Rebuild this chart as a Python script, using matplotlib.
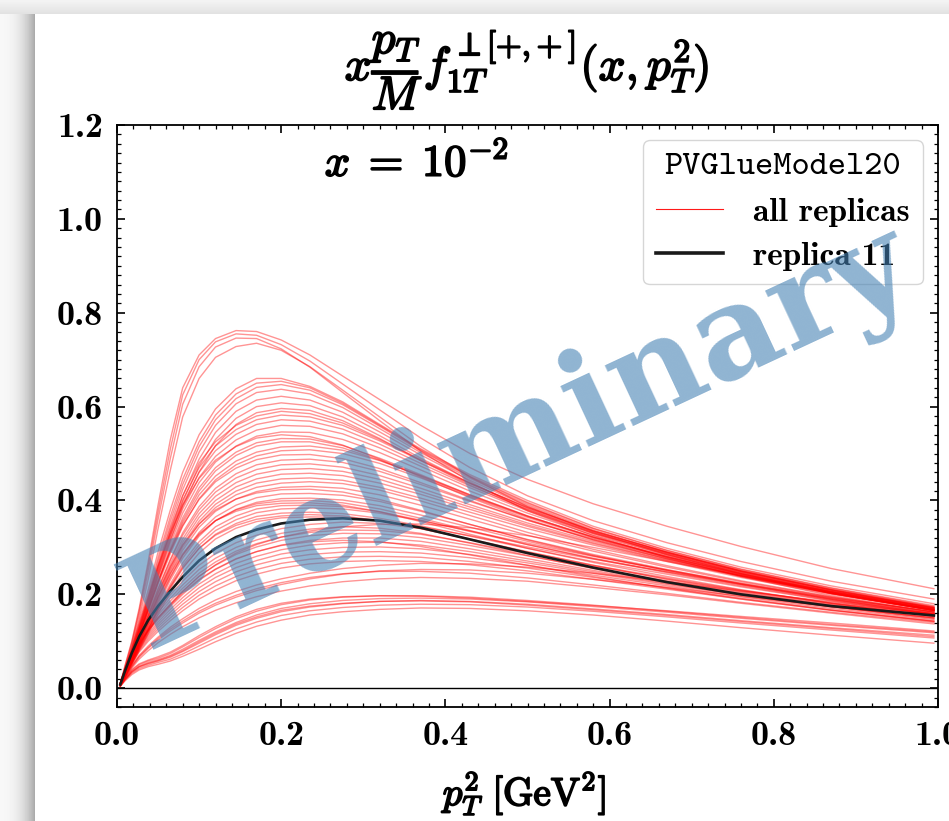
import numpy as np
import matplotlib
matplotlib.use('Agg')
import matplotlib.pyplot as plt
import matplotlib.patheffects as pe
from matplotlib.ticker import MultipleLocator

plt.rcParams['mathtext.fontset'] = 'cm'
plt.rcParams['axes.unicode_minus'] = False

# ---------------- data ----------------
pT2 = [0.004, 0.01, 0.018, 0.027, 0.038, 0.05, 0.065, 0.08, 0.1, 0.12, 0.145, 0.17,
       0.2, 0.235, 0.275, 0.32, 0.37, 0.43, 0.5, 0.58, 0.67, 0.76, 0.87, 0.995]

replicas_top = [
    [0.01, 0.05, 0.1, 0.17, 0.27, 0.39, 0.53, 0.64, 0.71, 0.745, 0.762, 0.76, 0.742, 0.71, 0.665, 0.615, 0.56, 0.5, 0.445, 0.393, 0.345, 0.302, 0.255, 0.212],
    [0.01, 0.048, 0.097, 0.165, 0.26, 0.375, 0.51, 0.625, 0.7, 0.738, 0.755, 0.752, 0.732, 0.697, 0.648, 0.593, 0.533, 0.47, 0.41, 0.357, 0.31, 0.27, 0.228, 0.19],
    [0.01, 0.045, 0.092, 0.157, 0.248, 0.36, 0.49, 0.605, 0.685, 0.727, 0.746, 0.745, 0.723, 0.684, 0.63, 0.57, 0.505, 0.44, 0.378, 0.325, 0.278, 0.238, 0.197, 0.162],
    [0.01, 0.042, 0.086, 0.147, 0.232, 0.34, 0.465, 0.578, 0.66, 0.705, 0.728, 0.735, 0.72, 0.685, 0.635, 0.578, 0.515, 0.45, 0.387, 0.333, 0.285, 0.244, 0.202, 0.166],
]
replicas_high = [
    [0.01, 0.042, 0.085, 0.14, 0.21, 0.29, 0.38, 0.46, 0.54, 0.595, 0.638, 0.66, 0.66, 0.643, 0.61, 0.562, 0.51, 0.455, 0.4, 0.345, 0.298, 0.258, 0.218, 0.18],
    [0.01, 0.04, 0.08, 0.133, 0.2, 0.278, 0.366, 0.445, 0.525, 0.582, 0.627, 0.65, 0.654, 0.64, 0.607, 0.56, 0.508, 0.452, 0.396, 0.341, 0.294, 0.254, 0.214, 0.176],
    [0.01, 0.038, 0.077, 0.128, 0.193, 0.27, 0.356, 0.434, 0.515, 0.572, 0.617, 0.641, 0.647, 0.635, 0.604, 0.558, 0.506, 0.45, 0.394, 0.34, 0.293, 0.253, 0.213, 0.174],
    [0.01, 0.037, 0.075, 0.124, 0.187, 0.262, 0.346, 0.423, 0.503, 0.56, 0.606, 0.63, 0.637, 0.627, 0.598, 0.553, 0.502, 0.447, 0.391, 0.337, 0.29, 0.25, 0.21, 0.171],
    [0.01, 0.036, 0.072, 0.12, 0.18, 0.253, 0.334, 0.41, 0.488, 0.545, 0.59, 0.614, 0.622, 0.614, 0.588, 0.546, 0.497, 0.443, 0.388, 0.335, 0.289, 0.249, 0.209, 0.17],
    [0.01, 0.035, 0.07, 0.116, 0.175, 0.245, 0.324, 0.398, 0.474, 0.53, 0.575, 0.6, 0.608, 0.602, 0.578, 0.538, 0.49, 0.437, 0.383, 0.331, 0.286, 0.247, 0.207, 0.168],
    [0.009, 0.034, 0.068, 0.112, 0.17, 0.238, 0.315, 0.387, 0.461, 0.517, 0.562, 0.587, 0.596, 0.592, 0.57, 0.532, 0.485, 0.433, 0.38, 0.329, 0.284, 0.245, 0.205, 0.166],
]
replicas_mid1 = [
    [0.01, 0.04, 0.08, 0.13, 0.19, 0.26, 0.34, 0.41, 0.48, 0.525, 0.56, 0.58, 0.59, 0.585, 0.565, 0.53, 0.487, 0.437, 0.385, 0.335, 0.29, 0.251, 0.211, 0.173],
    [0.01, 0.039, 0.078, 0.127, 0.186, 0.254, 0.332, 0.401, 0.47, 0.516, 0.551, 0.572, 0.582, 0.578, 0.56, 0.527, 0.485, 0.436, 0.385, 0.335, 0.29, 0.25, 0.21, 0.172],
    [0.01, 0.038, 0.076, 0.124, 0.182, 0.248, 0.324, 0.392, 0.46, 0.506, 0.541, 0.562, 0.572, 0.569, 0.552, 0.52, 0.479, 0.431, 0.381, 0.332, 0.288, 0.249, 0.209, 0.171],
    [0.01, 0.037, 0.074, 0.121, 0.178, 0.242, 0.316, 0.382, 0.449, 0.494, 0.529, 0.55, 0.56, 0.558, 0.542, 0.512, 0.473, 0.427, 0.378, 0.33, 0.287, 0.248, 0.208, 0.17],
    [0.01, 0.036, 0.072, 0.118, 0.173, 0.236, 0.308, 0.373, 0.438, 0.482, 0.516, 0.537, 0.546, 0.545, 0.53, 0.502, 0.465, 0.42, 0.373, 0.326, 0.284, 0.246, 0.206, 0.169],
    [0.011, 0.042, 0.084, 0.136, 0.195, 0.26, 0.33, 0.39, 0.447, 0.486, 0.515, 0.533, 0.54, 0.536, 0.518, 0.488, 0.45, 0.406, 0.36, 0.316, 0.276, 0.24, 0.202, 0.166],
    [0.009, 0.035, 0.07, 0.114, 0.168, 0.229, 0.3, 0.363, 0.427, 0.47, 0.503, 0.523, 0.532, 0.531, 0.517, 0.49, 0.455, 0.412, 0.367, 0.322, 0.281, 0.244, 0.205, 0.168],
    [0.009, 0.034, 0.068, 0.112, 0.165, 0.225, 0.295, 0.357, 0.42, 0.463, 0.496, 0.516, 0.525, 0.525, 0.512, 0.486, 0.452, 0.41, 0.366, 0.322, 0.281, 0.244, 0.205, 0.168],
]
replicas_mid2 = [
    [0.009, 0.035, 0.07, 0.114, 0.166, 0.226, 0.293, 0.352, 0.412, 0.452, 0.484, 0.503, 0.514, 0.516, 0.507, 0.485, 0.453, 0.412, 0.367, 0.322, 0.28, 0.242, 0.203, 0.167],
    [0.009, 0.034, 0.068, 0.111, 0.162, 0.221, 0.287, 0.345, 0.404, 0.444, 0.476, 0.495, 0.506, 0.508, 0.5, 0.479, 0.448, 0.408, 0.364, 0.32, 0.279, 0.242, 0.203, 0.166],
    [0.009, 0.036, 0.072, 0.117, 0.169, 0.228, 0.292, 0.347, 0.402, 0.44, 0.469, 0.487, 0.497, 0.498, 0.489, 0.468, 0.438, 0.4, 0.358, 0.316, 0.276, 0.24, 0.202, 0.166],
    [0.009, 0.033, 0.066, 0.107, 0.156, 0.212, 0.275, 0.331, 0.387, 0.426, 0.457, 0.476, 0.486, 0.488, 0.481, 0.462, 0.434, 0.398, 0.358, 0.318, 0.279, 0.243, 0.205, 0.168],
    [0.009, 0.034, 0.067, 0.108, 0.156, 0.211, 0.272, 0.326, 0.38, 0.418, 0.448, 0.466, 0.476, 0.478, 0.471, 0.453, 0.426, 0.391, 0.352, 0.313, 0.275, 0.24, 0.203, 0.166],
    [0.008, 0.032, 0.064, 0.104, 0.151, 0.205, 0.265, 0.318, 0.372, 0.409, 0.438, 0.456, 0.466, 0.468, 0.462, 0.445, 0.419, 0.386, 0.348, 0.31, 0.273, 0.239, 0.202, 0.166],
    [0.008, 0.031, 0.062, 0.101, 0.147, 0.2, 0.259, 0.311, 0.364, 0.4, 0.429, 0.446, 0.456, 0.458, 0.453, 0.437, 0.413, 0.381, 0.345, 0.308, 0.272, 0.238, 0.202, 0.166],
    [0.008, 0.031, 0.061, 0.099, 0.144, 0.196, 0.254, 0.305, 0.356, 0.392, 0.42, 0.437, 0.446, 0.448, 0.443, 0.428, 0.405, 0.375, 0.34, 0.305, 0.27, 0.236, 0.2, 0.165],
]
replicas_mid3 = [
    [0.008, 0.03, 0.06, 0.097, 0.142, 0.193, 0.25, 0.3, 0.35, 0.385, 0.412, 0.428, 0.437, 0.44, 0.436, 0.422, 0.399, 0.368, 0.332, 0.296, 0.261, 0.229, 0.195, 0.163],
    [0.008, 0.03, 0.059, 0.095, 0.139, 0.189, 0.245, 0.294, 0.343, 0.377, 0.403, 0.419, 0.428, 0.43, 0.426, 0.412, 0.39, 0.36, 0.326, 0.292, 0.258, 0.227, 0.194, 0.162],
    [0.009, 0.034, 0.067, 0.107, 0.153, 0.204, 0.259, 0.305, 0.35, 0.38, 0.403, 0.416, 0.423, 0.424, 0.418, 0.402, 0.379, 0.349, 0.316, 0.283, 0.251, 0.221, 0.189, 0.158],
    [0.008, 0.029, 0.057, 0.092, 0.134, 0.182, 0.236, 0.284, 0.332, 0.365, 0.39, 0.406, 0.414, 0.415, 0.411, 0.398, 0.377, 0.349, 0.317, 0.285, 0.253, 0.223, 0.191, 0.16],
    [0.008, 0.028, 0.056, 0.09, 0.131, 0.178, 0.231, 0.277, 0.324, 0.357, 0.381, 0.396, 0.404, 0.405, 0.401, 0.389, 0.369, 0.343, 0.313, 0.282, 0.251, 0.222, 0.19, 0.159],
    [0.009, 0.031, 0.061, 0.097, 0.139, 0.186, 0.238, 0.283, 0.327, 0.357, 0.38, 0.393, 0.399, 0.4, 0.395, 0.382, 0.362, 0.336, 0.306, 0.276, 0.246, 0.218, 0.187, 0.157],
    [0.008, 0.027, 0.054, 0.087, 0.126, 0.172, 0.222, 0.267, 0.312, 0.344, 0.367, 0.382, 0.389, 0.39, 0.387, 0.376, 0.358, 0.334, 0.306, 0.277, 0.248, 0.22, 0.189, 0.159],
    [0.008, 0.027, 0.053, 0.085, 0.123, 0.168, 0.217, 0.261, 0.305, 0.336, 0.359, 0.374, 0.382, 0.384, 0.382, 0.373, 0.357, 0.335, 0.309, 0.281, 0.252, 0.224, 0.193, 0.162],
    [0.008, 0.026, 0.052, 0.083, 0.12, 0.164, 0.212, 0.255, 0.298, 0.328, 0.351, 0.366, 0.373, 0.375, 0.372, 0.362, 0.346, 0.324, 0.298, 0.27, 0.243, 0.216, 0.186, 0.157],
    [0.008, 0.028, 0.055, 0.088, 0.126, 0.169, 0.216, 0.257, 0.298, 0.326, 0.347, 0.36, 0.367, 0.37, 0.367, 0.357, 0.34, 0.317, 0.29, 0.262, 0.235, 0.209, 0.181, 0.153],
    [0.008, 0.025, 0.05, 0.08, 0.116, 0.158, 0.204, 0.246, 0.288, 0.318, 0.341, 0.355, 0.363, 0.365, 0.364, 0.357, 0.344, 0.325, 0.301, 0.275, 0.248, 0.222, 0.192, 0.163],
    [0.009, 0.033, 0.065, 0.104, 0.147, 0.194, 0.244, 0.287, 0.329, 0.357, 0.377, 0.389, 0.394, 0.395, 0.39, 0.376, 0.355, 0.328, 0.298, 0.268, 0.238, 0.21, 0.181, 0.153],
]
replicas_mid4 = [
    [0.008, 0.037, 0.073, 0.107, 0.14, 0.168, 0.199, 0.228, 0.262, 0.287, 0.31, 0.326, 0.34, 0.349, 0.354, 0.351, 0.34, 0.318, 0.291, 0.262, 0.232, 0.206, 0.18, 0.157],
    [0.008, 0.035, 0.07, 0.103, 0.135, 0.162, 0.192, 0.22, 0.253, 0.277, 0.3, 0.316, 0.33, 0.339, 0.344, 0.341, 0.33, 0.309, 0.283, 0.255, 0.227, 0.202, 0.177, 0.155],
    [0.007, 0.033, 0.066, 0.098, 0.129, 0.156, 0.186, 0.213, 0.245, 0.269, 0.292, 0.308, 0.322, 0.332, 0.337, 0.336, 0.328, 0.31, 0.287, 0.26, 0.233, 0.208, 0.182, 0.158],
    [0.007, 0.032, 0.064, 0.095, 0.125, 0.151, 0.18, 0.207, 0.239, 0.262, 0.285, 0.301, 0.315, 0.325, 0.33, 0.329, 0.321, 0.304, 0.282, 0.256, 0.229, 0.204, 0.178, 0.154],
    [0.007, 0.031, 0.062, 0.092, 0.121, 0.146, 0.174, 0.2, 0.23, 0.253, 0.275, 0.291, 0.305, 0.315, 0.32, 0.32, 0.313, 0.297, 0.276, 0.251, 0.225, 0.2, 0.174, 0.15],
    [0.007, 0.031, 0.06, 0.089, 0.116, 0.141, 0.168, 0.193, 0.222, 0.244, 0.266, 0.281, 0.295, 0.305, 0.31, 0.311, 0.305, 0.291, 0.271, 0.248, 0.223, 0.199, 0.174, 0.15],
    [0.007, 0.029, 0.058, 0.086, 0.112, 0.136, 0.162, 0.186, 0.214, 0.236, 0.257, 0.272, 0.286, 0.295, 0.3, 0.301, 0.297, 0.285, 0.267, 0.245, 0.221, 0.198, 0.173, 0.148],
    [0.006, 0.029, 0.056, 0.083, 0.108, 0.131, 0.156, 0.179, 0.206, 0.227, 0.248, 0.263, 0.276, 0.285, 0.29, 0.291, 0.288, 0.278, 0.262, 0.241, 0.218, 0.195, 0.17, 0.146],
    [0.006, 0.028, 0.054, 0.08, 0.104, 0.126, 0.15, 0.172, 0.198, 0.218, 0.238, 0.253, 0.266, 0.275, 0.28, 0.281, 0.279, 0.27, 0.256, 0.236, 0.214, 0.192, 0.167, 0.143],
    [0.006, 0.027, 0.052, 0.077, 0.1, 0.121, 0.144, 0.165, 0.19, 0.209, 0.229, 0.243, 0.256, 0.265, 0.27, 0.272, 0.27, 0.263, 0.25, 0.232, 0.211, 0.19, 0.166, 0.142],
    [0.007, 0.031, 0.062, 0.093, 0.122, 0.149, 0.178, 0.206, 0.238, 0.263, 0.288, 0.306, 0.322, 0.335, 0.344, 0.349, 0.35, 0.342, 0.325, 0.3, 0.27, 0.24, 0.206, 0.172],
    [0.007, 0.032, 0.064, 0.095, 0.124, 0.15, 0.177, 0.203, 0.232, 0.254, 0.276, 0.291, 0.304, 0.312, 0.315, 0.312, 0.302, 0.284, 0.262, 0.238, 0.213, 0.19, 0.166, 0.143],
]
replicas_low1 = [
    [0.006, 0.026, 0.048, 0.07, 0.09, 0.109, 0.13, 0.148, 0.17, 0.188, 0.206, 0.22, 0.233, 0.245, 0.255, 0.262, 0.266, 0.265, 0.258, 0.245, 0.227, 0.207, 0.184, 0.158],
    [0.006, 0.024, 0.045, 0.066, 0.085, 0.103, 0.122, 0.139, 0.16, 0.177, 0.194, 0.208, 0.221, 0.233, 0.243, 0.25, 0.253, 0.252, 0.245, 0.232, 0.215, 0.196, 0.174, 0.15],
    [0.006, 0.026, 0.047, 0.068, 0.087, 0.106, 0.126, 0.143, 0.164, 0.181, 0.198, 0.212, 0.225, 0.236, 0.244, 0.249, 0.249, 0.245, 0.235, 0.22, 0.202, 0.183, 0.162, 0.14],
    [0.005, 0.023, 0.043, 0.062, 0.08, 0.097, 0.115, 0.131, 0.15, 0.166, 0.182, 0.195, 0.207, 0.218, 0.227, 0.233, 0.236, 0.234, 0.228, 0.215, 0.199, 0.181, 0.16, 0.137],
]
replicas_low2 = [
    [0.005, 0.022, 0.038, 0.05, 0.058, 0.064, 0.074, 0.088, 0.108, 0.127, 0.148, 0.164, 0.178, 0.188, 0.194, 0.197, 0.197, 0.194, 0.187, 0.177, 0.164, 0.151, 0.136, 0.12],
    [0.005, 0.02, 0.036, 0.047, 0.055, 0.061, 0.07, 0.083, 0.102, 0.12, 0.14, 0.156, 0.17, 0.18, 0.187, 0.191, 0.192, 0.19, 0.184, 0.174, 0.162, 0.149, 0.134, 0.118],
    [0.005, 0.019, 0.034, 0.045, 0.052, 0.058, 0.066, 0.078, 0.096, 0.114, 0.134, 0.149, 0.163, 0.173, 0.18, 0.185, 0.187, 0.185, 0.179, 0.169, 0.157, 0.144, 0.129, 0.113],
    [0.005, 0.018, 0.032, 0.042, 0.049, 0.055, 0.062, 0.073, 0.09, 0.107, 0.126, 0.141, 0.155, 0.165, 0.172, 0.177, 0.179, 0.178, 0.173, 0.164, 0.152, 0.139, 0.124, 0.107],
    [0.004, 0.016, 0.029, 0.039, 0.046, 0.051, 0.058, 0.068, 0.083, 0.099, 0.117, 0.132, 0.145, 0.156, 0.163, 0.168, 0.171, 0.17, 0.165, 0.156, 0.143, 0.129, 0.113, 0.096],
    [0.005, 0.023, 0.04, 0.052, 0.06, 0.067, 0.077, 0.091, 0.112, 0.131, 0.152, 0.168, 0.181, 0.19, 0.195, 0.197, 0.196, 0.192, 0.185, 0.176, 0.165, 0.153, 0.139, 0.122],
    [0.004, 0.019, 0.035, 0.046, 0.053, 0.059, 0.068, 0.08, 0.099, 0.117, 0.137, 0.152, 0.166, 0.175, 0.181, 0.185, 0.186, 0.184, 0.177, 0.167, 0.155, 0.142, 0.127, 0.11],
]
replica_11 = [0.008, 0.038, 0.075, 0.11, 0.145, 0.175, 0.207, 0.237, 0.272, 0.298, 0.322, 0.338,
              0.351, 0.359, 0.362, 0.357, 0.342, 0.317, 0.288, 0.257, 0.226, 0.2, 0.175, 0.155]

xticks = [0.0, 0.2, 0.4, 0.6, 0.8, 1.0]
xtick_labels = ['0.0', '0.2', '0.4', '0.6', '0.8', '1.0']
yticks = [0.0, 0.2, 0.4, 0.6, 0.8, 1.0, 1.2]
ytick_labels = ['0.0', '0.2', '0.4', '0.6', '0.8', '1.0', '1.2']

# ---------------- figure ----------------
W, H = 949, 821
fig = plt.figure(figsize=(W / 100, H / 100), dpi=100)

# screenshot shadow frame (decoration)
bgimg = np.ones((H, W))
yy, xx = np.mgrid[0:H, 0:W]
top = yy < 14
bgimg[top] = 0.955 - 0.07 * (yy[top] / 13.0)
left = (xx < 35) & (yy >= 14)
bgimg[left] = 0.97 - 0.30 * (xx[left] / 34.0) ** 2.5
bgax = fig.add_axes([0, 0, 1, 1], zorder=-5)
bgax.imshow(bgimg, cmap='gray', vmin=0, vmax=1, aspect='auto', interpolation='bilinear')
bgax.axis('off')

ax = fig.add_axes([117 / W, (H - 707) / H, 821 / W, 582 / H])

all_groups = [replicas_top, replicas_high, replicas_mid1, replicas_mid2,
              replicas_mid3, replicas_mid4, replicas_low1, replicas_low2]
red_handle = None
for grp in all_groups:
    for rep in grp:
        ln, = ax.plot(pT2, rep, color='red', lw=1.0, alpha=0.42, zorder=2)
        if red_handle is None:
            red_handle = ln
black_handle, = ax.plot(pT2, replica_11, color='#1a1a1a', lw=1.9, zorder=3)

ax.axhline(0.0, color='black', lw=1.0, zorder=1)

ax.set_xlim(0.0, 1.0)
ax.set_ylim(-0.04, 1.2)
ax.set_xticks(xticks)
ax.set_xticklabels(xtick_labels, fontfamily='cmb10', fontsize=26)
ax.set_yticks(yticks)
ax.set_yticklabels(ytick_labels, fontfamily='cmb10', fontsize=26)
ax.xaxis.set_minor_locator(MultipleLocator(0.02))
ax.yaxis.set_minor_locator(MultipleLocator(0.02))
ax.tick_params(which='both', direction='in', top=True, right=True)
ax.tick_params(which='major', length=6, width=1.2, pad=10)
ax.tick_params(which='minor', length=3, width=0.9)
for sp in ax.spines.values():
    sp.set_linewidth(1.3)

bold = [pe.withStroke(linewidth=1.3, foreground='black')]

fig.text(527 / W, 1 - 80 / H, r'$x\dfrac{p_T}{M}f_{1T}^{\perp[+{,}+]}(x,p_T^2)$',
         ha='center', va='baseline', fontsize=34, path_effects=bold)
ax.text(0.365, 0.935, r'$x\;=\;10^{-2}$', transform=ax.transAxes,
        ha='center', va='center', fontsize=32, path_effects=bold)
fig.text(525 / W, 1 - 805 / H, r'$p_T^2\ [\mathrm{GeV}^2]$',
         ha='center', va='baseline', fontsize=28, path_effects=bold)

leg = ax.legend([red_handle, black_handle], ['all replicas', 'replica 11'],
                title='PVGlueModel20', loc='upper right',
                prop={'family': 'cmb10', 'size': 24},
                title_fontproperties={'family': 'cmtt10', 'size': 25},
                frameon=True, fancybox=True, framealpha=0.8, edgecolor='0.8',
                handlelength=2.0, handletextpad=0.9, labelspacing=0.45,
                borderaxespad=0.45)
leg.set_zorder(5)
leg.legend_handles[0].set_alpha(0.9)
leg.legend_handles[0].set_linewidth(0.8)
leg.legend_handles[1].set_linewidth(2.6)

ax.text(0.49, 0.462, 'Preliminary', transform=ax.transAxes, rotation=25,
        fontsize=93, family='DejaVu Serif', weight='bold', color='steelblue',
        alpha=0.6, ha='center', va='center', zorder=10)

fig.savefig('out.png', dpi=100)
